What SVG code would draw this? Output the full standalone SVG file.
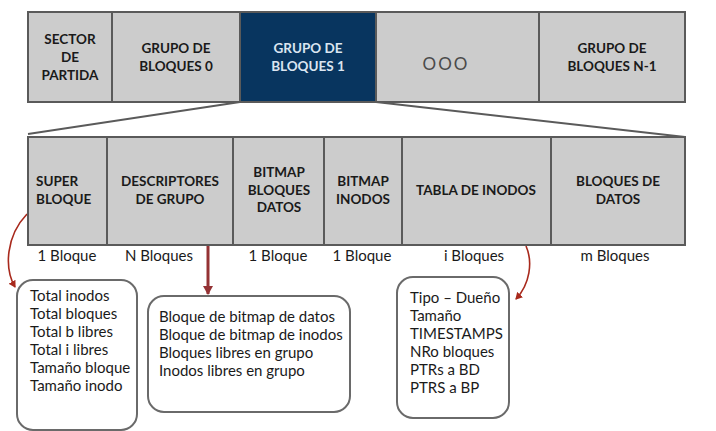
<svg xmlns="http://www.w3.org/2000/svg" width="716" height="431" viewBox="0 0 716 431">
<defs>
<style>
.cell{fill:#cccccc;stroke:#5a5a5a;stroke-width:2}
.blue{fill:#08355f;stroke:#5a5a5a;stroke-width:2}
.h{font-family:Lato,"Open Sans",sans-serif;font-weight:bold;font-size:13.5px;fill:#1a1a1a}
.hw{font-family:Lato,"Open Sans",sans-serif;font-size:13.5px;fill:#dbe5f1;font-weight:bold}
.t{font-family:Lato,"Open Sans",sans-serif;font-size:15px;fill:#1a1a1a}
.box{fill:#ffffff;stroke:#6a6a6a;stroke-width:2}
.c{text-anchor:middle}
</style>
<marker id="ah" markerWidth="8" markerHeight="8" refX="6" refY="4" orient="auto" markerUnits="userSpaceOnUse">
<path d="M0,0 L7,4 L0,8 Z" fill="#a8291c"/>
</marker>
<marker id="ah2" markerWidth="10" markerHeight="10" refX="8" refY="5" orient="auto" markerUnits="userSpaceOnUse">
<path d="M0,0 L9,5 L0,10 Z" fill="#943234"/>
</marker>
</defs>

<g id="top-row">
<g id="sector"><rect class="cell" x="28" y="12" width="84" height="90"/>
<text class="h c" x="70" y="44">SECTOR</text><text class="h c" x="70" y="62">DE</text><text class="h c" x="70" y="80">PARTIDA</text></g>
<g id="grupo0"><rect class="cell" x="112" y="12" width="128" height="90"/>
<text class="h c" x="176" y="53">GRUPO DE</text><text class="h c" x="176" y="71">BLOQUES 0</text></g>
<g id="grupo1"><rect class="blue" x="240" y="12" width="136" height="90"/>
<text class="hw c" x="308" y="53">GRUPO DE</text><text class="hw c" x="308" y="71">BLOQUES 1</text></g>
<g id="dots"><rect class="cell" x="376" y="12" width="163" height="90"/>
<text class="c" x="446" y="70" style="font-family:Lato,sans-serif;font-size:17px;fill:#4a4a4a;letter-spacing:2px">OOO</text></g>
<g id="grupoN"><rect class="cell" x="539" y="12" width="146" height="90"/>
<text class="h c" x="612" y="53">GRUPO DE</text><text class="h c" x="612" y="71">BLOQUES N-1</text></g>
</g>

<g id="connectors" fill="none">
<line x1="240" y1="102" x2="28" y2="134" stroke="#5a5a5a" stroke-width="2"/>
<line x1="376" y1="102" x2="685" y2="137" stroke="#5a5a5a" stroke-width="2"/>
<path d="M27,214 C6,236 4,268 15,287" stroke="#a8291c" stroke-width="1.6" marker-end="url(#ah)"/>
<line x1="208" y1="245" x2="208" y2="294" stroke="#943234" stroke-width="3" marker-end="url(#ah2)"/>
<path d="M526,246 C533,262 530,284 516,299" stroke="#a8291c" stroke-width="1.6" marker-end="url(#ah)"/>
</g>

<g id="bottom-row">
<g id="super"><rect class="cell" x="28" y="137" width="79" height="108"/>
<text class="h" x="36" y="186">SUPER</text><text class="h" x="36" y="204">BLOQUE</text></g>
<g id="descriptores"><rect class="cell" x="107" y="137" width="126" height="108"/>
<text class="h c" x="170" y="186">DESCRIPTORES</text><text class="h c" x="170" y="204">DE GRUPO</text></g>
<g id="bitmap-datos"><rect class="cell" x="233" y="137" width="91" height="108"/>
<text class="h c" x="279" y="177">BITMAP</text><text class="h c" x="279" y="195">BLOQUES</text><text class="h c" x="279" y="212">DATOS</text></g>
<g id="bitmap-inodos"><rect class="cell" x="324" y="137" width="78" height="108"/>
<text class="h c" x="363" y="186">BITMAP</text><text class="h c" x="363" y="204">INODOS</text></g>
<g id="tabla"><rect class="cell" x="402" y="137" width="149" height="108"/>
<text class="h c" x="476" y="195">TABLA DE INODOS</text></g>
<g id="bloques-datos"><rect class="cell" x="551" y="137" width="134" height="108"/>
<text class="h c" x="618" y="186">BLOQUES DE</text><text class="h c" x="618" y="204">DATOS</text></g>
</g>

<g id="sizes">
<text class="t c" x="67" y="261">1 Bloque</text>
<text class="t c" x="159" y="261">N Bloques</text>
<text class="t c" x="278" y="261">1 Bloque</text>
<text class="t c" x="362" y="261">1 Bloque</text>
<text class="t c" x="474" y="261">i Bloques</text>
<text class="t c" x="615" y="261">m Bloques</text>
</g>

<g id="super-info"><rect class="box" x="17" y="280" width="120" height="150" rx="16"/>
<text class="t" x="30" y="301">Total inodos</text>
<text class="t" x="30" y="319">Total bloques</text>
<text class="t" x="30" y="337">Total b libres</text>
<text class="t" x="30" y="355">Total i libres</text>
<text class="t" x="30" y="373">Tamaño bloque</text>
<text class="t" x="30" y="391">Tamaño inodo</text></g>

<g id="descriptores-info"><rect class="box" x="148" y="296" width="202" height="116" rx="16"/>
<text class="t" x="159" y="322">Bloque de bitmap de datos</text>
<text class="t" x="159" y="340">Bloque de bitmap de inodos</text>
<text class="t" x="159" y="358">Bloques libres en grupo</text>
<text class="t" x="159" y="376">Inodos libres en grupo</text></g>

<g id="inodo-info"><rect class="box" x="397" y="277" width="112" height="141" rx="16"/>
<text class="t" x="410" y="303">Tipo – Dueño</text>
<text class="t" x="410" y="321">Tamaño</text>
<text class="t" x="410" y="339">TIMESTAMPS</text>
<text class="t" x="410" y="357">NRo bloques</text>
<text class="t" x="410" y="375">PTRs a BD</text>
<text class="t" x="410" y="393">PTRS a BP</text></g>
</svg>
